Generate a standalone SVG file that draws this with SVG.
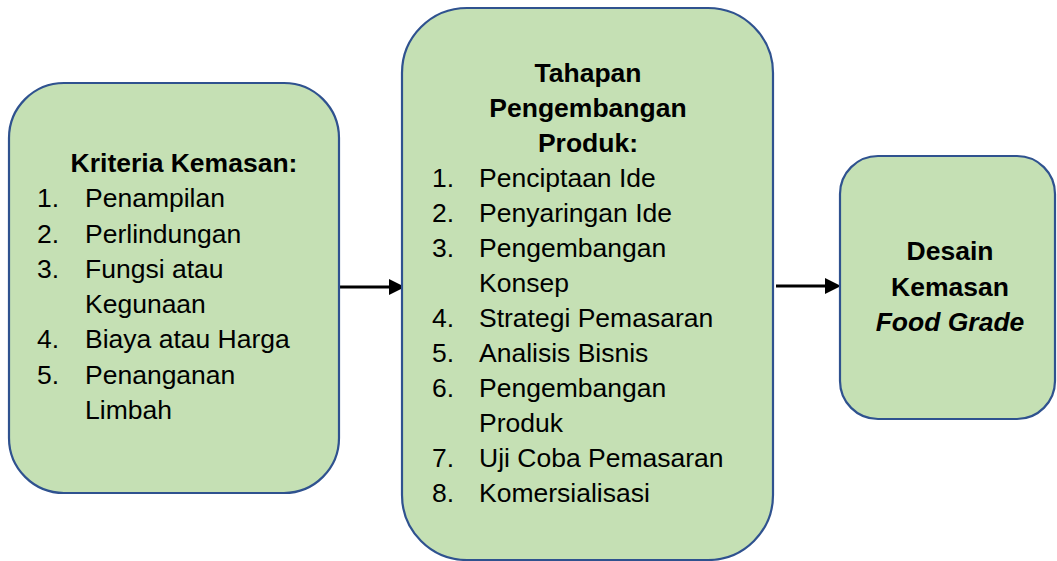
<svg xmlns="http://www.w3.org/2000/svg" width="1057" height="561" viewBox="0 0 1057 561">
<style>
.box{fill:#C5E0B4;stroke:#2F528F;stroke-width:2.2}
text{font-family:"Liberation Sans",Arial,sans-serif;font-size:26.5px;fill:#000}
.b{font-weight:bold}
.c{text-anchor:middle}
.conn{stroke:#000;stroke-width:3.2;fill:none}
</style>
<defs>
<marker id="ah" markerWidth="6" markerHeight="6" refX="2.5" refY="3" orient="auto" markerUnits="strokeWidth">
<path d="M0,0.5 L5,3 L0,5.5 Z" fill="#000"/>
</marker>
</defs>
<rect width="1057" height="561" fill="#fff"/>
<g id="connectors">
<line class="conn" x1="340" y1="287" x2="397" y2="287" marker-end="url(#ah)"/>
<line class="conn" x1="776" y1="286" x2="833" y2="286" marker-end="url(#ah)"/>
</g>
<g id="kriteria">
<rect class="box" x="9" y="83" width="330" height="410" rx="55" ry="55"/>
<text class="b c" x="184" y="172">Kriteria Kemasan:</text>
<text x="37" y="207">1.</text><text x="85" y="207">Penampilan</text>
<text x="37" y="242.5">2.</text><text x="85" y="242.5">Perlindungan</text>
<text x="37" y="277.5">3.</text><text x="85" y="277.5">Fungsi atau</text>
<text x="85" y="313">Kegunaan</text>
<text x="37" y="348">4.</text><text x="85" y="348">Biaya atau Harga</text>
<text x="37" y="383.5">5.</text><text x="85" y="383.5">Penanganan</text>
<text x="85" y="418.5">Limbah</text>
</g>
<g id="tahapan">
<rect class="box" x="402" y="8" width="371" height="552" rx="65" ry="65"/>
<text class="b c" x="588" y="82">Tahapan</text>
<text class="b c" x="588" y="117">Pengembangan</text>
<text class="b c" x="588" y="152">Produk:</text>
<text x="432" y="187">1.</text><text x="479" y="187">Penciptaan Ide</text>
<text x="432" y="222">2.</text><text x="479" y="222">Penyaringan Ide</text>
<text x="432" y="257">3.</text><text x="479" y="257">Pengembangan</text>
<text x="479" y="292">Konsep</text>
<text x="432" y="327">4.</text><text x="479" y="327">Strategi Pemasaran</text>
<text x="432" y="362">5.</text><text x="479" y="362">Analisis Bisnis</text>
<text x="432" y="397">6.</text><text x="479" y="397">Pengembangan</text>
<text x="479" y="432">Produk</text>
<text x="432" y="467">7.</text><text x="479" y="467">Uji Coba Pemasaran</text>
<text x="432" y="502">8.</text><text x="479" y="502">Komersialisasi</text>
</g>
<g id="desain">
<rect class="box" x="840" y="156" width="215" height="263" rx="38" ry="38"/>
<text class="b c" x="950" y="260">Desain</text>
<text class="b c" x="950" y="296">Kemasan</text>
<text class="b c" x="950" y="331" font-style="italic">Food Grade</text>
</g>
</svg>
